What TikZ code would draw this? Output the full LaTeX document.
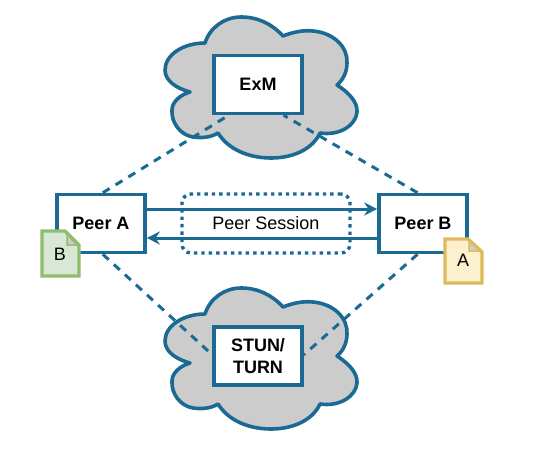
\documentclass[tikz,border=0pt]{standalone}
\usepackage{fontspec}
\setmainfont{Liberation Sans}
\usetikzlibrary{arrows.meta,calc}
\definecolor{netblue}{HTML}{1B6A94}
\definecolor{cloudgray}{HTML}{CCCCCC}
\definecolor{greenedge}{HTML}{8FBC6E}
\definecolor{greenfill}{HTML}{D8E8D4}
\definecolor{yellowedge}{HTML}{DDBB5C}
\definecolor{yellowfill}{HTML}{FDF0CF}
\pgfdeclarelayer{back}
\pgfsetlayers{back,main}
\tikzset{
  boxnode/.style={draw=netblue,fill=white,line width=3.6pt,minimum width=88pt,minimum height=58pt,inner sep=0pt,align=center,font=\fontsize{18}{22}\selectfont\bfseries},
  cloudline/.style={draw=netblue,fill=cloudgray,line width=3.6pt,line join=round},
  link/.style={draw=netblue,line width=3pt,dash pattern=on 8pt off 7pt},
  flow/.style={draw=netblue,line width=3pt,-{Stealth[length=13pt,width=13pt]}},
  session/.style={draw=netblue,line width=3.4pt,dash pattern=on 3.4pt off 4pt,rounded corners=9pt,minimum width=168pt,minimum height=59pt,inner sep=0pt,font=\fontsize{18}{20}\selectfont},
  doclabel/.style={inner sep=0pt,font=\fontsize{18}{20}\selectfont},
  docline/.style={line width=3.4pt,line join=miter},
  peel/.style={line width=1.5pt}
}
\newcommand{\cloudshape}{
  \path[cloudline] (190,92)
    .. controls (175,88) and (165,80) .. (165,70)
    .. controls (165,55) and (183,43) .. (205,43)
    .. controls (210,27) and (225,17) .. (241,17)
    .. controls (258,17) and (272,24) .. (283,36)
    .. controls (293,32) and (303,30) .. (313,31)
    .. controls (335,33) and (348,48) .. (347,63)
    .. controls (347,72) and (343,80) .. (337,85)
    .. controls (348,92) and (358,102) .. (357,112)
    .. controls (356,125) and (340,136) .. (320,133)
    .. controls (312,150) and (292,158) .. (271,158)
    .. controls (248,158) and (228,149) .. (218,133)
    .. controls (210,138) and (200,138) .. (193,137)
    .. controls (180,135) and (171,122) .. (172,110)
    .. controls (172,102) and (180,95) .. (190,92) -- cycle;
}
\begin{document}
\begin{tikzpicture}[x=1pt,y=-1pt]
\useasboundingbox (0,0) rectangle (535,452);
\node[boxnode] (exm) at (258,84.5) {ExM};
\node[boxnode] (stun) at (258,356) {STUN/\\TURN};
\node[boxnode] (peera) at (101,223.5) {Peer A};
\node[boxnode] (peerb) at (423,223.5) {Peer B};
\begin{pgfonlayer}{back}
\begin{scope}\cloudshape\end{scope}
\begin{scope}[yshift=-271pt]\cloudshape\end{scope}
\draw[link] ($(peera.north west)!0.52!(peera.north east)$) -- ($(exm.south west)!0.18!(exm.south east)$);
\draw[link] ($(peerb.north west)!0.44!(peerb.north east)$) -- ($(exm.south east)!0.22!(exm.south west)$);
\draw[link] ($(peera.south west)!0.52!(peera.south east)$) -- ($(stun.north west)!0.48!(stun.south west)$);
\draw[link] ($(peerb.south west)!0.44!(peerb.south east)$) -- ($(stun.north east)!0.48!(stun.south east)$);
\end{pgfonlayer}
\node[session] (sess) at (266,223.5) {Peer Session};
\draw[flow] (peera.east |- 0,209) -- (peerb.west |- 0,209);
\draw[flow] (peerb.west |- 0,238) -- (peera.east |- 0,238);
\draw[docline,draw=greenedge,fill=greenfill] (42,231) -- (65,231) -- (79,245) -- (79,276) -- (42,276) -- cycle;
\draw[peel,draw=greenedge,fill=cloudgray] (67,234) -- (67,245) -- (77,245) -- cycle;
\node[doclabel] (docb) at (60,254) {B};
\draw[docline,draw=yellowedge,fill=yellowfill] (445,239) -- (468,239) -- (482,252) -- (482,283) -- (445,283) -- cycle;
\draw[peel,draw=yellowedge,fill=cloudgray] (469,241) -- (469,251) -- (480,251) -- cycle;
\node[doclabel] (doca) at (463,260) {A};
\end{tikzpicture}
\end{document}
